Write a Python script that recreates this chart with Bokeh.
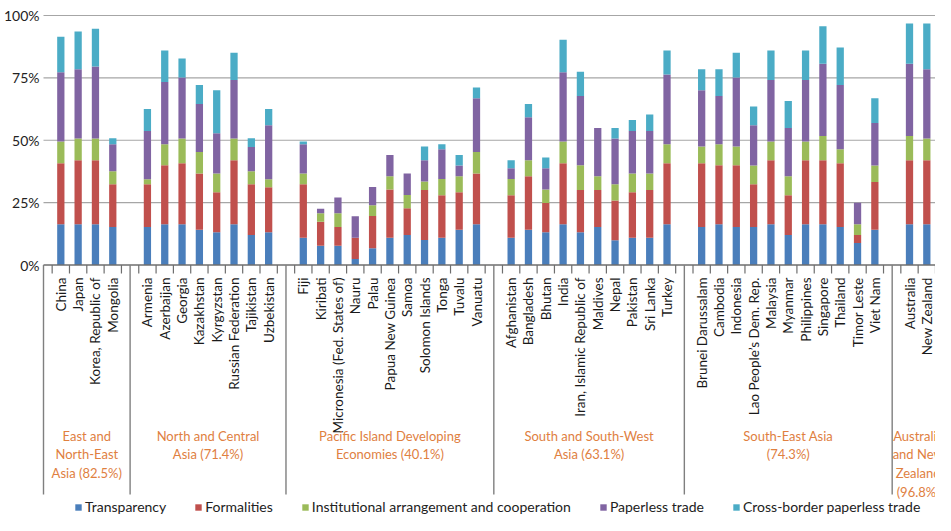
from bokeh.plotting import figure
from bokeh.models import ColumnDataSource, Range1d, Legend, LegendItem
from bokeh.core.properties import value
from bokeh.embed import file_html
from bokeh.resources import INLINE
import math

# ---------------- data ----------------
group_labels = [
    "East and\nNorth-East\nAsia (82.5%)",
    "North and Central\nAsia (71.4%)",
    "Pacific Island Developing\nEconomies (40.1%)",
    "South and South-West\nAsia (63.1%)",
    "South-East Asia\n(74.3%)",
    "Australia\nand New\nZealand\n(96.8%)",
]
group_countries = [
    ["China", "Japan", "Korea, Republic of", "Mongolia"],
    ["Armenia", "Azerbaijan", "Georgia", "Kazakhstan", "Kyrgyzstan",
     "Russian Federation", "Tajikistan", "Uzbekistan"],
    ["Fiji", "Kiribati", "Micronesia (Fed. States of)", "Nauru", "Palau",
     "Papua New Guinea", "Samoa", "Solomon Islands", "Tonga", "Tuvalu", "Vanuatu"],
    ["Afghanistan", "Bangladesh", "Bhutan", "India", "Iran, Islamic Republic of",
     "Maldives", "Nepal", "Pakistan", "Sri Lanka", "Turkey"],
    ["Brunei Darussalam", "Cambodia", "Indonesia", "Lao People\u2019s Dem. Rep.",
     "Malaysia", "Myanmar", "Philippines", "Singapore", "Thailand",
     "Timor Leste", "Viet Nam"],
    ["Australia", "New Zealand"],
]

series_names = ["Transparency", "Formalities",
                "Institutional arrangement and cooperation",
                "Paperless trade", "Cross-border paperless trade"]

transparency = [16.3, 16.3, 16.3, 15.2,
                15.2, 16.3, 16.3, 14.1, 13.1, 16.3, 12.0, 13.1,
                10.9, 7.7, 7.7, 2.4, 6.7, 10.9, 12.0, 10.0, 10.9, 14.1, 16.3,
                10.9, 14.1, 13.1, 16.3, 13.1, 15.2, 9.9, 10.9, 10.9, 16.3,
                15.2, 16.3, 15.2, 15.2, 16.3, 12.0, 16.3, 16.3, 15.2, 8.8, 14.1,
                16.3, 16.3]
formalities = [24.5, 25.7, 25.7, 17.2,
               17.2, 23.7, 24.5, 22.6, 16.1, 25.7, 20.4, 18.1,
               21.5, 9.6, 7.5, 8.5, 12.9, 19.4, 10.7, 20.1, 17.1, 15.1, 20.4,
               17.1, 21.5, 11.7, 24.5, 17.0, 14.9, 16.0, 18.3, 19.2, 24.5,
               25.6, 23.7, 24.8, 17.2, 25.7, 16.0, 25.7, 25.7, 25.6, 3.2, 19.2,
               25.7, 25.7]
institutional = [8.7, 8.7, 8.7, 5.2,
                 2.0, 8.4, 9.9, 8.6, 7.5, 8.7, 5.2, 3.2,
                 4.3, 3.4, 5.5, 0.0, 4.3, 5.3, 5.4, 3.4, 6.5, 6.4, 8.6,
                 6.5, 6.4, 5.5, 8.7, 9.9, 5.5, 6.5, 7.5, 6.6, 7.6,
                 6.7, 8.4, 7.5, 7.5, 7.5, 7.6, 7.5, 9.7, 5.6, 4.3, 6.6,
                 9.7, 8.7]
paperless = [27.8, 27.8, 28.9, 10.8,
             19.3, 24.9, 24.5, 19.2, 16.1, 23.4, 9.7, 21.6,
             11.7, 1.8, 6.4, 8.6, 7.4, 8.5, 8.6, 8.5, 11.9, 4.3, 21.5,
             4.3, 17.2, 8.5, 27.8, 27.7, 19.3, 18.3, 17.0, 17.0, 28.0,
             22.5, 19.3, 27.7, 16.1, 24.6, 19.3, 24.6, 29.0, 25.7, 8.6, 17.0,
             29.0, 27.8]
cross_border = [14.2, 15.1, 15.1, 2.4,
                8.8, 12.7, 7.6, 7.6, 17.2, 11.0, 3.5, 6.5,
                1.1, 0.0, 0.0, 0.0, 0.0, 0.0, 0.0, 5.5, 2.0, 4.2, 4.3,
                3.2, 5.3, 4.3, 13.0, 9.8, 0.0, 4.2, 4.4, 6.6, 9.6,
                8.5, 10.8, 9.9, 7.5, 11.9, 10.8, 11.9, 15.0, 15.1, 0.0, 9.9,
                16.1, 18.3]

y_ticks = [0, 25, 50, 75, 100]
y_tick_labels = ["0%", "25%", "50%", "75%", "100%"]

colors = ["#4a7ebb", "#c0504d", "#9bbb59", "#8064a2", "#4bacc6"]
group_color = "#e0803f"
FONT = "Lato"

# ---------------- layout of slots ----------------
countries, xs, separators, group_centers = [], [], [], []
pos = 0
for names in group_countries:
    gx = []
    for n in names:
        countries.append(n)
        xs.append(pos)
        gx.append(pos)
        pos += 1
    group_centers.append(sum(gx) / len(gx))
    separators.append(pos)
    pos += 1
axis_x = -1
half_ticks = [k + 0.5 for k in range(-1, pos - 1)]

# pixel geometry -> data ranges (canvas pixels)
W, H = 935, 515
axis_px = 43.0
slot_px = 17.32
y0_px, y100_px = 264.5, 15.0
ppu = (y0_px - y100_px) / 100.0
x_start = axis_x - axis_px / slot_px
x_end = x_start + W / slot_px
y_end = y0_px / ppu
y_start = -(H - y0_px) / ppu

def py(canvas_y):
    return -(canvas_y - y0_px) / ppu

p = figure(width=W, height=H, output_backend="svg", toolbar_location=None,
           x_range=Range1d(x_start, x_end), y_range=Range1d(y_start, y_end),
           min_border=0, outline_line_color=None)
p.axis.visible = False
p.grid.visible = False
p.background_fill_color = "white"

# gridlines
p.segment(x0=[axis_x] * 4, x1=[x_end] * 4, y0=y_ticks[1:], y1=y_ticks[1:],
          line_color="#a6a6a6", line_width=1.2)

# bars
src = ColumnDataSource(dict(x=xs, T=transparency, F=formalities, I=institutional,
                            P=paperless, C=cross_border))
rs = p.vbar_stack(["T", "F", "I", "P", "C"], x="x", width=0.42, color=colors,
                  line_color=None, source=src)

# baseline axis, ticks, separators
p.segment(x0=[axis_x], x1=[x_end], y0=[0], y1=[0], line_color="#6e6e6e", line_width=1.3)
p.segment(x0=half_ticks, x1=half_ticks, y0=[0] * len(half_ticks),
          y1=[py(273)] * len(half_ticks), line_color="#6e6e6e", line_width=1.2)
sep_x = [axis_x] + separators
p.segment(x0=sep_x, x1=sep_x, y0=[0] * len(sep_x), y1=[py(494)] * len(sep_x),
          line_color="#7f7f7f", line_width=1.4)

# y tick labels
p.text(x=[axis_x] * len(y_ticks), y=y_ticks, text=y_tick_labels, x_offset=-4,
       text_align="right", text_baseline="middle", text_font=value(FONT),
       text_font_size="14px", text_color="#222222")

# country labels
p.text(x=xs, y=[py(277)] * len(xs), text=countries, angle=math.pi / 2,
       text_align="right", text_baseline="middle", text_font=value(FONT),
       text_font_size="13.5px", text_color="#1a1a1a")

# group labels
p.text(x=group_centers, y=[py(427)] * len(group_centers), text=group_labels,
       text_align="center", text_baseline="top", text_font=value(FONT),
       text_font_size="13px", text_color=group_color, text_line_height=1.18)

legend = Legend(items=[LegendItem(label=n, renderers=[r]) for n, r in zip(series_names, rs)],
                orientation="horizontal", location=(74, 0),
                glyph_width=8, glyph_height=8, label_standoff=3, spacing=28,
                padding=0, margin=0, label_height=15,
                label_text_font=FONT, label_text_font_size="14px",
                label_text_color="#222222", border_line_alpha=0,
                background_fill_alpha=0)
p.add_layout(legend)

open("out.html", "w").write(file_html(p, INLINE))
